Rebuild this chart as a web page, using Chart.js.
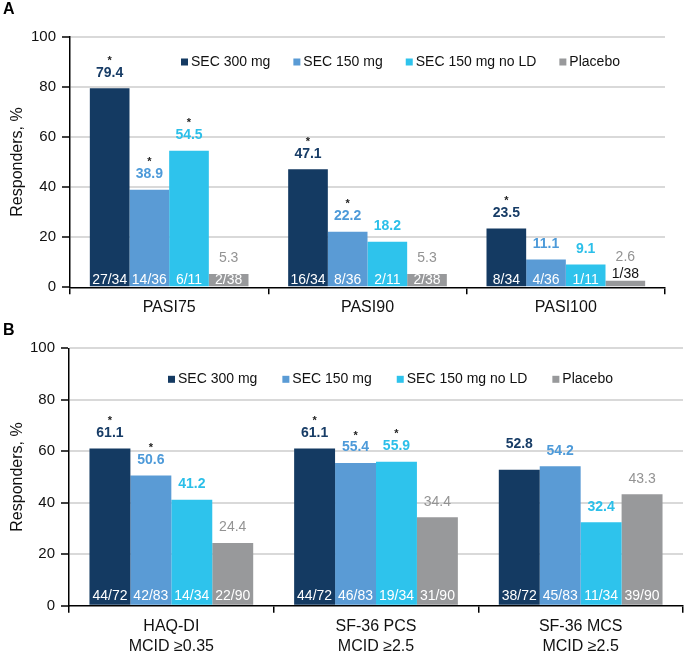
<!DOCTYPE html>
<html><head><meta charset="utf-8">
<script src="https://cdn.jsdelivr.net/npm/chart.js@4/dist/chart.umd.min.js"></script>
<style>
html,body{margin:0;padding:0;background:#fff;}
#wrap{position:relative;width:685px;height:651px;overflow:hidden;}
.panel{position:absolute;left:0;width:685px;}
.tag{position:absolute;left:3px;font:bold 16px "Liberation Sans",Arial,sans-serif;color:#000;}
</style></head><body>
<div id="wrap">
<div class="panel" style="top:0;height:320px"><canvas id="cA"></canvas></div>
<div class="panel" style="top:320px;height:331px"><canvas id="cB"></canvas></div>
<div class="tag" style="top:0px">A</div>
<div class="tag" style="top:321px">B</div>
</div>
<script>
const FF = '"Liberation Sans", Arial, sans-serif';

// ---- Data ----
const seriesNames = ['SEC 300 mg', 'SEC 150 mg', 'SEC 150 mg no LD', 'Placebo'];
const yTicks = [0, 20, 40, 60, 80, 100];

// Panel A
const categoriesA = ['PASI75', 'PASI90', 'PASI100'];
const sec300A = [79.4, 47.1, 23.5];
const sec150A = [38.9, 22.2, 11.1];
const sec150noLDA = [54.5, 18.2, 9.1];
const placeboA = [5.3, 5.3, 2.6];
const frac300A = ['27/34', '16/34', '8/34'];
const frac150A = ['14/36', '8/36', '4/36'];
const frac150noLDA = ['6/11', '2/11', '1/11'];
const fracPlaceboA = ['2/38', '2/38', '1/38'];
const sig300A = [true, true, true];
const sig150A = [true, true, false];
const sig150noLDA = [true, false, false];
const sigPlaceboA = [false, false, false];

// Panel B
const categoriesB = [['HAQ-DI', 'MCID \u22650.35'], ['SF-36 PCS', 'MCID \u22652.5'], ['SF-36 MCS', 'MCID \u22652.5']];
const sec300B = [61.1, 61.1, 52.8];
const sec150B = [50.6, 55.4, 54.2];
const sec150noLDB = [41.2, 55.9, 32.4];
const placeboB = [24.4, 34.4, 43.3];
const frac300B = ['44/72', '44/72', '38/72'];
const frac150B = ['42/83', '46/83', '45/83'];
const frac150noLDB = ['14/34', '19/34', '11/34'];
const fracPlaceboB = ['22/90', '31/90', '39/90'];
const sig300B = [true, true, false];
const sig150B = [true, true, false];
const sig150noLDB = [false, true, false];
const sigPlaceboB = [false, false, false];

// ---- Styles ----
const barColors = ['#143a62', '#5a9bd5', '#2ec3ec', '#98999b'];
const valueColors = ['#173c66', '#4d9ad9', '#2bbfe9', '#939393'];
const valueBold = [true, true, true, false];

function makeDatasets(vals, fracs, sigs) {
  return vals.map((v, k) => ({
    label: seriesNames[k],
    data: v,
    backgroundColor: barColors[k],
    borderWidth: 0,
    categoryPercentage: 0.8,
    barPercentage: 1.0,
    valueColor: valueColors[k],
    valueBold: valueBold[k],
    fractions: fracs[k],
    sig: sigs[k]
  }));
}

const barLabelPlugin = {
  id: 'barLabels',
  afterDatasetsDraw(chart, args, opts) {
    const ctx = chart.ctx;
    chart.data.datasets.forEach((ds, di) => {
      const meta = chart.getDatasetMeta(di);
      meta.data.forEach((bar, i) => {
        const v = ds.data[i];
        const h = bar.base - bar.y;
        let valY = bar.y - opts.valGap;
        let fracY = bar.base - opts.fracOffset;
        let fracColor = '#ffffff';
        if (h < opts.minInside) {
          fracY = bar.y - 7;
          fracColor = '#111111';
          valY = bar.y - 24;
        }
        const sh = (opts.shifts || []).find(s => s.d === di && s.i === i);
        if (sh) valY += sh.dy;
        ctx.save();
        ctx.textAlign = 'center';
        ctx.textBaseline = 'middle';
        ctx.font = (ds.valueBold ? 'bold ' : '') + '14px ' + FF;
        ctx.fillStyle = ds.valueColor;
        ctx.fillText(v.toFixed(1), bar.x, valY);
        if (ds.sig[i]) {
          ctx.font = 'bold 11px ' + FF;
          ctx.fillStyle = '#222222';
          ctx.fillText('*', bar.x, valY - 12);
        }
        ctx.font = '14px ' + FF;
        ctx.fillStyle = fracColor;
        ctx.fillText(ds.fractions[i], bar.x, fracY);
        ctx.restore();
      });
    });
    // legend inside chart area
    const ca = chart.chartArea;
    let x = opts.legendX;
    const y = ca.top + opts.legendDy;
    ctx.save();
    ctx.font = '14px ' + FF;
    ctx.textBaseline = 'middle';
    ctx.textAlign = 'left';
    chart.data.datasets.forEach((ds) => {
      ctx.fillStyle = ds.backgroundColor;
      ctx.fillRect(x, y - 3.5, 7, 7);
      x += 10;
      ctx.fillStyle = '#111111';
      ctx.fillText(ds.label, x, y);
      x += ctx.measureText(ds.label).width + opts.legendGap;
    });
    ctx.restore();
  }
};

function makeChart(id, cats, datasets, cfg) {
  return new Chart(document.getElementById(id), {
    type: 'bar',
    data: { labels: cats, datasets: datasets },
    plugins: [barLabelPlugin],
    options: {
      responsive: true,
      maintainAspectRatio: false,
      animation: false,
      layout: { padding: { top: cfg.padTop, right: cfg.padRight, left: 0, bottom: 0 } },
      plugins: {
        legend: { display: false },
        tooltip: { enabled: false },
        barLabels: {
          valGap: 15.5, fracOffset: cfg.fracOffset, minInside: 10,
          legendX: cfg.legendX, legendDy: cfg.legendDy, legendGap: cfg.legendGap,
          shifts: cfg.shifts || []
        }
      },
      scales: {
        x: {
          afterFit: (s) => { s.height = cfg.xHeight; },
          grid: { offset: true, drawOnChartArea: false, drawTicks: true, tickLength: 7, color: '#000', lineWidth: 1.5 },
          border: { display: true, color: '#000', width: 1.5 },
          ticks: { font: { size: 16, family: FF, lineHeight: 1.3 }, color: '#111', padding: 3, maxRotation: 0 }
        },
        y: {
          min: 0, max: 100,
          afterFit: (s) => { s.width = cfg.yWidth; },
          afterBuildTicks: (s) => { s.ticks = yTicks.map(v => ({ value: v })); },
          grid: {
            color: (c) => (c.tick && c.tick.value === 0) ? 'rgba(0,0,0,0)' : '#d9d9d9',
            lineWidth: 2, drawTicks: true, tickLength: 8, tickColor: '#000', tickWidth: 1.5
          },
          border: { display: true, color: '#000', width: 1.5 },
          ticks: { font: { size: 15, family: FF }, color: '#111', padding: 6 },
          title: { display: true, text: 'Responders, %', font: { size: 16, family: FF }, color: '#111', padding: { top: 8, bottom: 0 } }
        }
      }
    }
  });
}

makeChart('cA', categoriesA,
  makeDatasets([sec300A, sec150A, sec150noLDA, placeboA],
               [frac300A, frac150A, frac150noLDA, fracPlaceboA],
               [sig300A, sig150A, sig150noLDA, sigPlaceboA]),
  { padTop: 36.7, padRight: 20, yWidth: 70, xHeight: 32.7, fracOffset: 6, legendX: 181, legendDy: 25.3, legendGap: 23 });

makeChart('cB', categoriesB,
  makeDatasets([sec300B, sec150B, sec150noLDB, placeboB],
               [frac300B, frac150B, frac150noLDB, fracPlaceboB],
               [sig300B, sig150B, sig150noLDB, sigPlaceboB]),
  { padTop: 28.3, padRight: 2, yWidth: 69, xHeight: 45.3, fracOffset: 8.5, legendX: 168, legendDy: 31, legendGap: 25,
    shifts: [{ d: 0, i: 2, dy: -10 }] });
</script>
</body></html>
